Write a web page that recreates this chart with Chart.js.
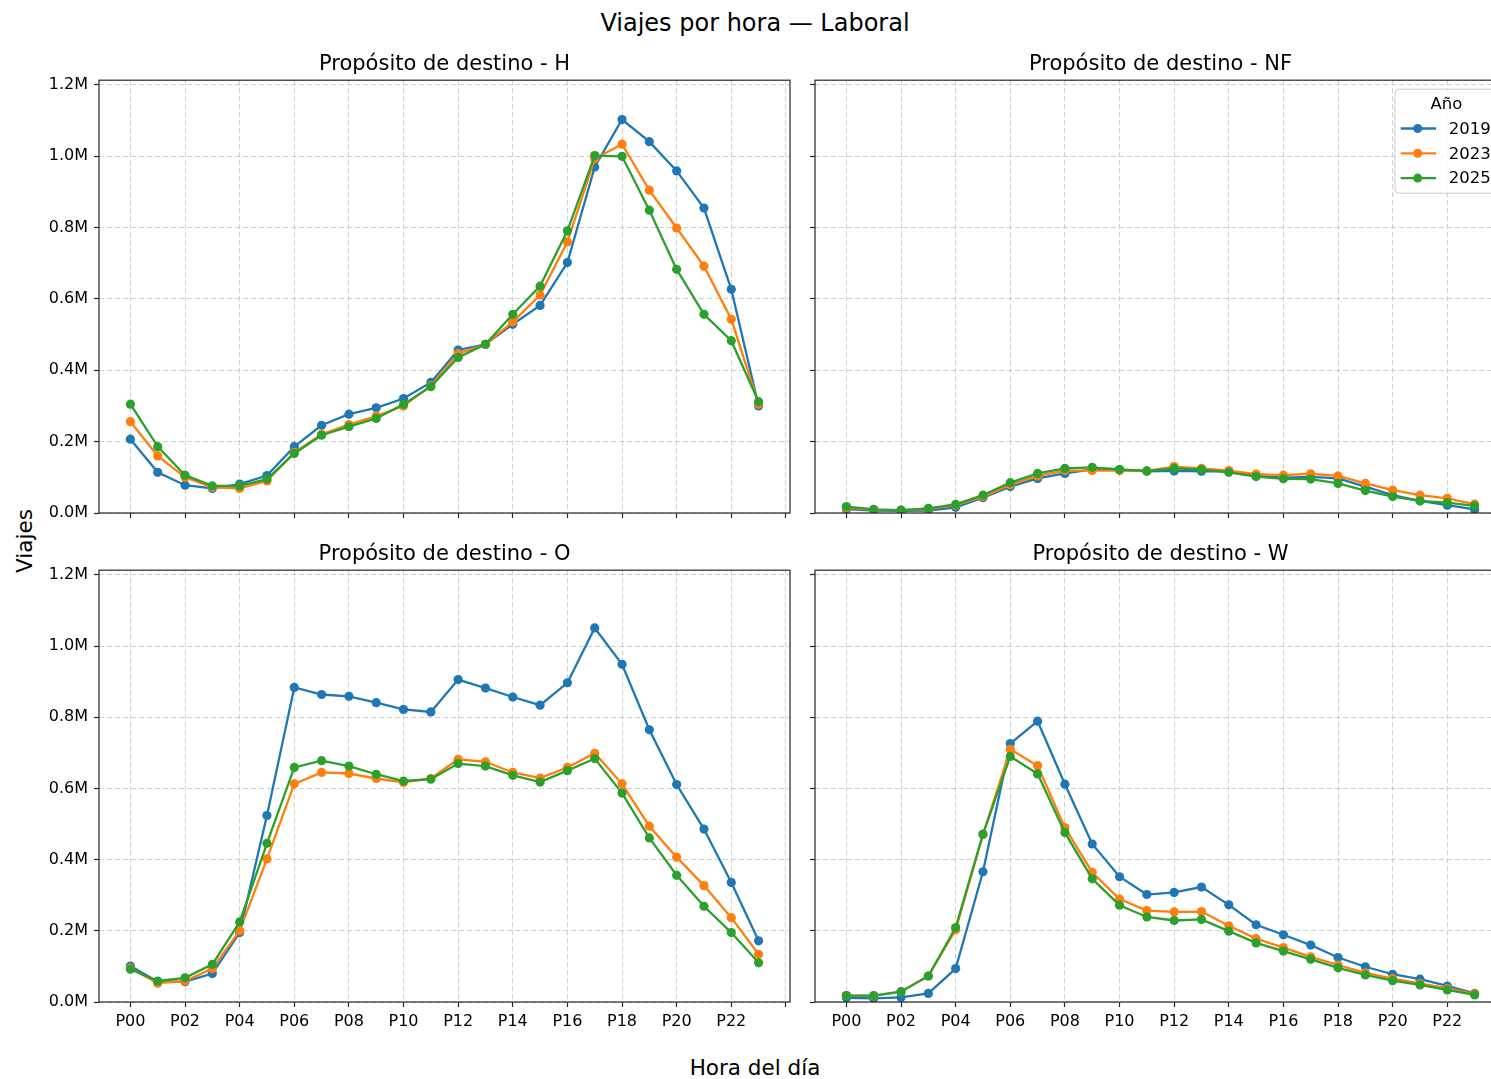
<!DOCTYPE html>
<html><head><meta charset="utf-8">
<script src="https://cdn.jsdelivr.net/npm/chart.js@4.4.1/dist/chart.umd.min.js"></script>
<style>
html,body{margin:0;padding:0;background:#fff;overflow:hidden;width:1491px;height:1079px;}
#fig{position:relative;width:1491px;height:1079px;overflow:hidden;font-family:"DejaVu Sans",sans-serif;color:#000;background:#fff;}
canvas{position:absolute;}
.txt{position:absolute;white-space:nowrap;line-height:1;}
</style></head><body><div id="fig">
<div class="txt" style="font-size:24px;left:755px;top:11px;transform:translateX(-50%);">Viajes por hora — Laboral</div>
<div class="txt" style="font-size:21.5px;left:755px;top:1057px;transform:translateX(-50%);">Hora del día</div>
<div class="txt" style="font-size:21.5px;left:25px;top:541px;transform:translate(-50%,-50%) rotate(-90deg);">Viajes</div>
<canvas id="cH" width="800" height="560" style="left:0;top:0"></canvas>
<canvas id="cNF" width="760" height="560" style="left:760px;top:0"></canvas>
<canvas id="cO" width="800" height="560" style="left:0;top:490px"></canvas>
<canvas id="cW" width="760" height="560" style="left:760px;top:490px"></canvas>
</div>
<script>
// ---- data (values in millions of trips) ----
const hours = ['P00','P01','P02','P03','P04','P05','P06','P07','P08','P09','P10','P11','P12','P13','P14','P15','P16','P17','P18','P19','P20','P21','P22','P23'];
const years = ['2019','2023','2025'];
const xTickValues = [0,2,4,6,8,10,12,14,16,18,20,22,24];
const yTickValues = [0,0.2,0.4,0.6,0.8,1.0,1.2];

const h2019 = [0.207,0.114,0.078,0.069,0.081,0.105,0.186,0.246,0.277,0.295,0.321,0.366,0.457,0.473,0.529,0.582,0.702,0.970,1.103,1.041,0.959,0.855,0.627,0.300];
const h2023 = [0.256,0.160,0.100,0.072,0.069,0.090,0.170,0.221,0.248,0.272,0.300,0.357,0.447,0.473,0.536,0.611,0.760,0.993,1.034,0.905,0.799,0.692,0.543,0.305];
const h2025 = [0.305,0.186,0.106,0.076,0.076,0.095,0.167,0.218,0.242,0.265,0.305,0.354,0.436,0.473,0.557,0.636,0.791,1.002,1.000,0.849,0.683,0.557,0.483,0.312];

const nf2019 = [0.011,0.007,0.006,0.007,0.016,0.043,0.074,0.097,0.111,0.122,0.121,0.117,0.118,0.117,0.117,0.104,0.099,0.101,0.097,0.074,0.050,0.034,0.022,0.010];
const nf2023 = [0.015,0.009,0.008,0.011,0.022,0.046,0.079,0.104,0.119,0.119,0.119,0.118,0.130,0.125,0.119,0.109,0.106,0.110,0.104,0.083,0.064,0.050,0.041,0.025];
const nf2025 = [0.018,0.010,0.008,0.013,0.024,0.050,0.085,0.111,0.125,0.128,0.122,0.118,0.125,0.122,0.114,0.102,0.096,0.095,0.083,0.063,0.046,0.034,0.029,0.020];

const o2019 = [0.101,0.057,0.057,0.080,0.195,0.524,0.884,0.864,0.859,0.841,0.822,0.815,0.906,0.882,0.857,0.834,0.897,1.051,0.949,0.765,0.611,0.486,0.336,0.172];
const o2023 = [0.095,0.053,0.059,0.094,0.200,0.402,0.613,0.645,0.642,0.628,0.617,0.628,0.682,0.675,0.645,0.629,0.659,0.699,0.613,0.494,0.407,0.327,0.237,0.134];
const o2025 = [0.092,0.059,0.068,0.106,0.225,0.446,0.659,0.678,0.663,0.640,0.621,0.626,0.670,0.663,0.637,0.618,0.650,0.684,0.587,0.461,0.356,0.269,0.195,0.110];

const w2019 = [0.012,0.010,0.013,0.024,0.094,0.366,0.726,0.789,0.612,0.444,0.352,0.302,0.308,0.323,0.273,0.217,0.189,0.160,0.125,0.099,0.078,0.064,0.045,0.024];
const w2023 = [0.018,0.017,0.029,0.073,0.203,0.470,0.710,0.664,0.490,0.364,0.289,0.257,0.253,0.254,0.214,0.178,0.153,0.127,0.104,0.082,0.066,0.052,0.038,0.023];
const w2025 = [0.018,0.018,0.029,0.073,0.209,0.472,0.690,0.641,0.476,0.346,0.272,0.239,0.229,0.232,0.199,0.166,0.143,0.120,0.096,0.076,0.060,0.048,0.034,0.020];

// ---- styling ----
const FONT = '"DejaVu Sans", sans-serif';
const COLORS = ['#1f77b4','#ff7f0e','#2ca02c'];
const GRID = 'rgba(176,176,176,0.6)';
const Y_MAX = 1.2133;

const framePlugin = {
  id:'frame',
  afterDatasetsDraw(chart){
    const {ctx, chartArea:a} = chart;
    ctx.save();
    ctx.strokeStyle = '#262626';
    ctx.lineWidth = 1.2;
    ctx.strokeRect(a.left, a.top, a.right-a.left, a.bottom-a.top);
    ctx.restore();
  }
};

const legendPlugin = {
  id:'mplLegend',
  afterDraw(chart, args, opts){
    if(!opts || !opts.show) return;
    const {ctx, chartArea:a} = chart;
    const w = 103, h = 104;
    const right = a.right - 8, top = a.top + 9, left = right - w;
    ctx.save();
    ctx.beginPath();
    ctx.roundRect(left, top, w, h, 4);
    ctx.fillStyle = 'rgba(255,255,255,0.8)';
    ctx.fill();
    ctx.strokeStyle = '#cccccc';
    ctx.lineWidth = 1;
    ctx.stroke();
    ctx.fillStyle = '#000';
    ctx.font = '16.5px ' + FONT;
    ctx.textBaseline = 'middle';
    ctx.textAlign = 'center';
    ctx.fillText(opts.title, left + 51.5, top + 15.5);
    ctx.textAlign = 'left';
    chart.data.datasets.forEach((ds, i) => {
      const y = top + 39.3 + i*24.8;
      ctx.strokeStyle = ds.borderColor;
      ctx.lineWidth = 2.3;
      ctx.beginPath();
      ctx.moveTo(left + 5.7, y);
      ctx.lineTo(left + 41, y);
      ctx.stroke();
      ctx.fillStyle = ds.borderColor;
      ctx.beginPath();
      ctx.arc(left + 22.7, y, 4.5, 0, Math.PI*2);
      ctx.fill();
      ctx.fillStyle = '#000';
      ctx.fillText(ds.label, left + 53.7, y + 1);
    });
    ctx.restore();
  }
};

function panel(id, title, series, cfg){
  const tickFont = {family: FONT, size: 16};
  return new Chart(document.getElementById(id), {
    type: 'line',
    data: {
      datasets: years.map((yr, k) => ({
        label: yr,
        data: series[k].map((v, i) => ({x: i, y: v})),
        borderColor: COLORS[k],
        backgroundColor: COLORS[k],
        pointBackgroundColor: COLORS[k],
        pointBorderColor: COLORS[k],
        borderWidth: 2.3,
        pointRadius: 4.6,
        pointBorderWidth: 0,
        pointHoverRadius: 4.6,
        tension: 0,
        order: 2 - k
      }))
    },
    options: {
      responsive: false,
      animation: false,
      events: [],
      layout: {padding: {left: 0, right: cfg.padRight, top: 0, bottom: 0}},
      plugins: {
        legend: {display: false},
        tooltip: {enabled: false},
        title: {display: true, text: title, fullSize: false, color: '#000',
                font: {family: FONT, size: 21, weight: 'normal'}, padding: {top: 52, bottom: 3}},
        mplLegend: {show: !!cfg.legend, title: 'Año'}
      },
      scales: {
        x: {
          type: 'linear', min: -1.15, max: 24.15,
          afterBuildTicks: s => { s.ticks = xTickValues.map(v => ({value: v})); },
          afterFit: s => { s.height = cfg.xHeight; },
          ticks: {display: cfg.showX, callback: v => hours[v] || '', font: tickFont, color: '#000', padding: 5, maxRotation: 0, autoSkip: false},
          grid: {color: GRID, lineWidth: 1, tickColor: '#262626', tickLength: 5, tickWidth: 1.2, tickBorderDash: []},
          border: {display: false, dash: [5, 3]}
        },
        y: {
          min: 0, max: Y_MAX,
          afterBuildTicks: s => { s.ticks = yTickValues.map(v => ({value: v})); },
          afterFit: s => { s.width = cfg.yWidth; },
          ticks: {display: cfg.showY, callback: v => v.toFixed(1) + 'M', font: tickFont, color: '#000', padding: 6},
          grid: {color: GRID, lineWidth: 1, tickColor: '#262626', tickLength: 5, tickWidth: 1.2, tickBorderDash: []},
          border: {display: false, dash: [5, 3]}
        }
      }
    },
    plugins: [framePlugin, legendPlugin]
  });
}

panel('cH',  'Propósito de destino - H',  [h2019, h2023, h2025],    {showX:false, showY:true,  yWidth:99, xHeight:47, padRight:10});
panel('cNF', 'Propósito de destino - NF', [nf2019, nf2023, nf2025], {showX:false, showY:false, yWidth:55, xHeight:47, padRight:14, legend:true});
panel('cO',  'Propósito de destino - O',  [o2019, o2023, o2025],    {showX:true,  showY:true,  yWidth:99, xHeight:48, padRight:10});
panel('cW',  'Propósito de destino - W',  [w2019, w2023, w2025],    {showX:true,  showY:false, yWidth:55, xHeight:48, padRight:14});
</script>
</body></html>
